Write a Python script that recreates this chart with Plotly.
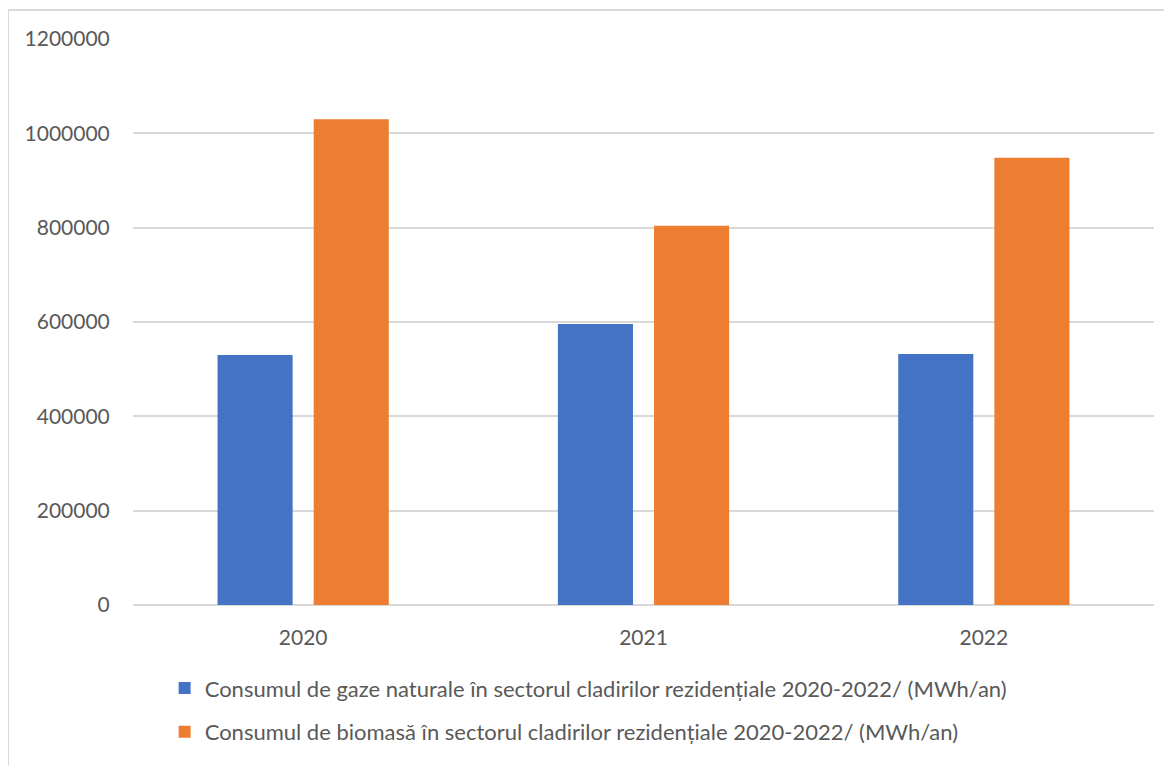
import plotly.graph_objects as go

years = ["2020", "2021", "2022"]
gaze = [530000, 596000, 532000]
biomasa = [1030000, 804000, 948000]
series_names = [
    "Consumul de gaze naturale în sectorul cladirilor rezidențiale 2020-2022/ (MWh/an)",
    "Consumul de biomasă în sectorul cladirilor rezidențiale 2020-2022/ (MWh/an)",
]
colors = ["#4472C4", "#ED7D31"]
y_ticks = [0, 200000, 400000, 600000, 800000, 1000000, 1200000]

fig = go.Figure()
for i, (name, vals) in enumerate(zip(series_names, [gaze, biomasa])):
    fig.add_trace(go.Bar(
        x=years, y=vals, name=name, legendgroup=f"g{i}",
        marker=dict(color=colors[i], line=dict(width=0)),
    ))

grid = "#d9d9d9"
txt = "#595959"
fig.update_layout(
    width=1164, height=758,
    margin=dict(l=125, r=18, t=31, b=161),
    paper_bgcolor="white", plot_bgcolor="white",
    font=dict(family="Lato, 'Open Sans', sans-serif", size=21, color=txt),
    barmode="group", bargap=0.435, bargroupgap=0.219,
    showlegend=True,
    legend=dict(
        x=0.031, xanchor="left", y=-0.11, yanchor="top",
        traceorder="grouped", tracegroupgap=12,
        font=dict(size=22, color=txt),
        itemwidth=30,
    ),
    xaxis=dict(showgrid=False, showline=False, ticks="outside", ticklen=14,
               tickcolor="rgba(0,0,0,0)"),
    yaxis=dict(range=[0, 1200000], tickvals=y_ticks,
               ticktext=[str(v) for v in y_ticks],
               showgrid=True, gridcolor=grid, gridwidth=1.5,
               zeroline=True, zerolinecolor=grid, zerolinewidth=1.5,
               ticks="outside", ticklen=18, tickcolor="rgba(0,0,0,0)"),
)

# chart area border (left and top edges visible in the crop)
fig.add_shape(type="line", xref="paper", yref="paper",
              x0=-0.1224, x1=-0.1224, y0=1.0512, y1=-0.3,
              line=dict(color=grid, width=2))
fig.add_shape(type="line", xref="paper", yref="paper",
              x0=-0.1224, x1=1.03, y0=1.0512, y1=1.0512,
              line=dict(color=grid, width=2))

fig.write_html("out.html")
